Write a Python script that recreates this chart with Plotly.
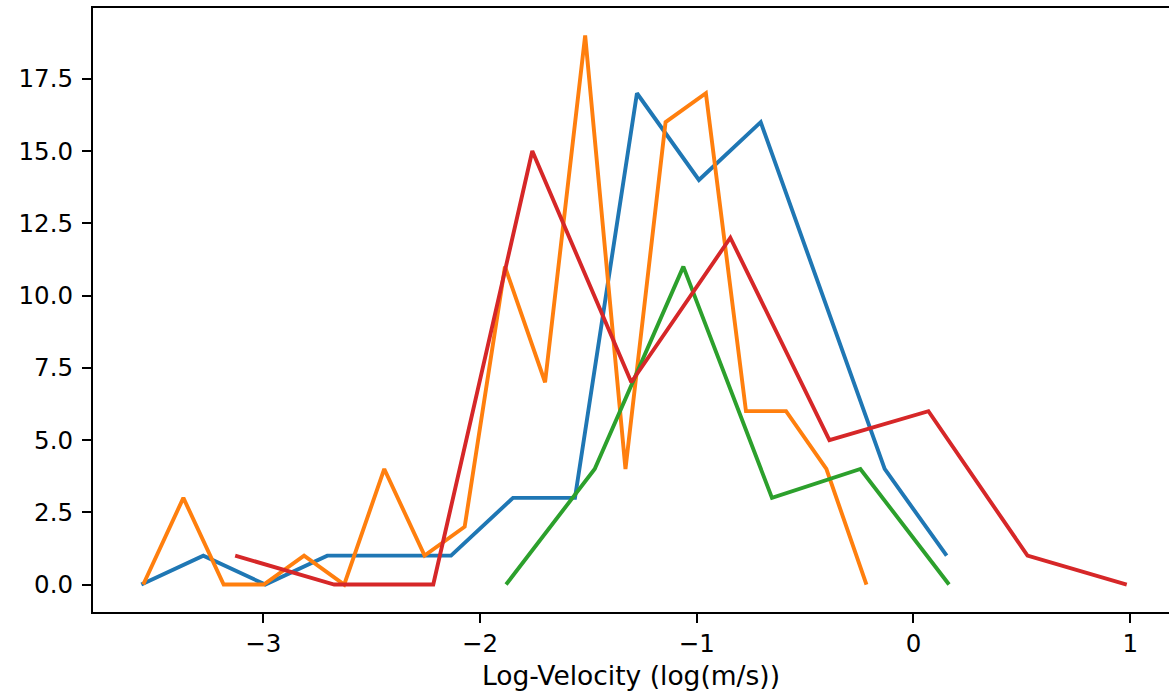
import plotly.graph_objects as go

# Series
blue_x = [-3.563, -3.277, -2.991, -2.705, -2.420, -2.134, -1.848, -1.562, -1.276, -0.990, -0.705, -0.419, -0.133, 0.153]
blue_y = [0, 1, 0, 1, 1, 1, 3, 3, 17, 14, 16, 10, 4, 1]

orange_x = [-3.554, -3.369, -3.183, -2.998, -2.812, -2.627, -2.442, -2.256, -2.071, -1.885,
            -1.700, -1.515, -1.329, -1.144, -0.958, -0.773, -0.588, -0.402, -0.217]
orange_y = [0, 3, 0, 0, 1, 0, 4, 1, 2, 11, 7, 19, 4, 16, 17, 6, 6, 4, 0]

green_x = [-1.880, -1.471, -1.062, -0.653, -0.245, 0.164]
green_y = [0, 4, 11, 3, 4, 0]

red_x = [-3.130, -2.673, -2.216, -1.759, -1.302, -0.845, -0.388, 0.069, 0.526, 0.984]
red_y = [1, 0, 0, 15, 7, 12, 5, 6, 1, 0]

x_tick_vals = [-3, -2, -1, 0, 1]
x_tick_text = ["\u22123", "\u22122", "\u22121", "0", "1"]
y_tick_vals = [0, 2.5, 5, 7.5, 10, 12.5, 15, 17.5]
y_tick_text = ["0.0", "2.5", "5.0", "7.5", "10.0", "12.5", "15.0", "17.5"]

x_label = "Log-Velocity (log(m/s))"

series = [
    (blue_x, blue_y, "#1f77b4"),
    (orange_x, orange_y, "#ff7f0e"),
    (green_x, green_y, "#2ca02c"),
    (red_x, red_y, "#d62728"),
]

fig = go.Figure()
for xs, ys, col in series:
    fig.add_trace(go.Scatter(x=xs, y=ys, mode="lines",
                             line=dict(color=col, width=3.9),
                             showlegend=False, hoverinfo="skip"))

font = dict(family="DejaVu Sans", size=24.5, color="black")
title_font = dict(family="DejaVu Sans", size=26.5, color="black")

fig.update_layout(
    width=1169, height=696, autosize=False,
    margin=dict(l=93, r=0, t=8, b=84, autoexpand=False),
    paper_bgcolor="white", plot_bgcolor="white",
    font=font,
    showlegend=False,
)
fig.update_xaxes(
    range=[-3.786, 1.179],
    tickvals=x_tick_vals, ticktext=x_tick_text,
    ticks="outside", ticklen=9, tickwidth=2, tickcolor="black",
    showline=True, linewidth=2.1, linecolor="black", mirror=True,
    showgrid=False, zeroline=False,
    title=dict(text=x_label, standoff=9, font=title_font),
    automargin=False,
)
fig.update_yaxes(
    range=[-0.95, 19.95],
    tickvals=y_tick_vals, ticktext=y_tick_text,
    ticks="outside", ticklen=9, tickwidth=2, tickcolor="black",
    ticklabelstandoff=4,
    showline=True, linewidth=2.1, linecolor="black", mirror=False,
    showgrid=False, zeroline=False,
    automargin=False,
)

post = ("document.body.style.margin='0';document.body.style.padding='0';"
        "document.body.style.overflow='hidden';")

fig.write_html("out.html", config={"responsive": False, "displayModeBar": False},
               post_script=post, default_width="1169px", default_height="696px")
